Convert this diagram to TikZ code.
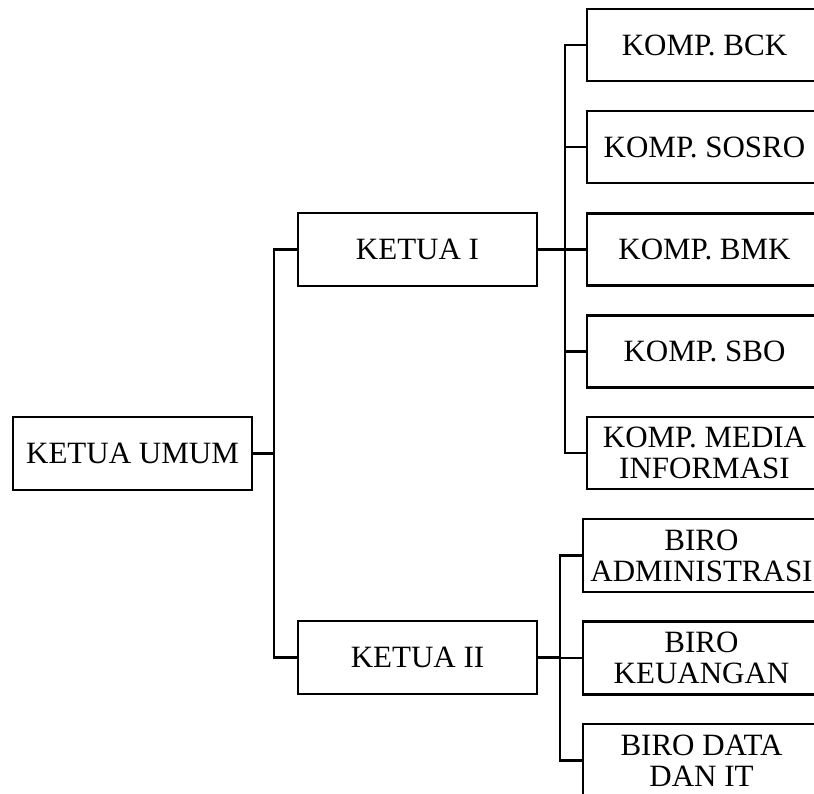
\documentclass[tikz,border=0pt]{standalone}
\usepackage{fontspec}
\setmainfont{Liberation Serif}
\begin{document}
\begin{tikzpicture}[x=1pt,y=-1pt,
  orgbox/.style={draw=black, line width=2.8pt, line join=miter, inner sep=0pt,
    align=center, font=\fontsize{31}{31}\selectfont, fill=white},
  midbox/.style={orgbox, minimum width=239pt, minimum height=73pt},
  rbox/.style={orgbox, minimum width=235pt, minimum height=72pt},
  lbox/.style={orgbox, minimum width=237pt, minimum height=73pt},
  conn/.style={draw=black, line width=2.8pt, line join=miter}]
\useasboundingbox (0,0) rectangle (814,793);
\clip (0,0) rectangle (814,793);
\fill[white] (0,0) rectangle (814,793);
% bus coordinates
\coordinate (b1) at (274,0);
\coordinate (b2) at (565,0);
\coordinate (b3) at (560,0);
% nodes
\node[midbox] (ku) at (132.5,453.5) {KETUA UMUM};
\node[midbox] (k1) at (417.5,249.5) {KETUA I};
\node[midbox] (k2) at (417.5,657.5) {KETUA II};
\node[rbox] (bck) at (704.5,45) {KOMP. BCK};
\node[rbox] (sosro) at (704.5,147) {KOMP. SOSRO};
\node[rbox] (bmk) at (704.5,249.5) {KOMP. BMK};
\node[rbox] (sbo) at (704.5,351.5) {KOMP. SBO};
\node[rbox] (media) at (704.5,453) {KOMP. MEDIA\\INFORMASI};
\node[lbox] (adm) at (701.5,555.5) {BIRO\\ADMINISTRASI};
\node[lbox] (keu) at (701.5,658) {BIRO\\KEUANGAN};
\node[lbox] (dat) at (701.5,760.5) {BIRO DATA\\DAN IT};
% connectors
\draw[conn] (ku.east) -- (ku.east -| b1);
\draw[conn] (k1.west) -- (k1.west -| b1) -- (k2.west -| b1) -- (k2.west);
\draw[conn] (k1.east) -- (k1.east -| b2);
\draw[conn] (bck.west) -- (bck.west -| b2) -- (media.west -| b2) -- (media.west);
\draw[conn] (sosro.west) -- (sosro.west -| b2);
\draw[conn] (bmk.west) -- (bmk.west -| b2);
\draw[conn] (sbo.west) -- (sbo.west -| b2);
\draw[conn] (k2.east) -- (k2.east -| b3);
\draw[conn] (adm.west) -- (adm.west -| b3) -- (dat.west -| b3) -- (dat.west);
\draw[conn] (keu.west) -- (keu.west -| b3);
\end{tikzpicture}
\end{document}
